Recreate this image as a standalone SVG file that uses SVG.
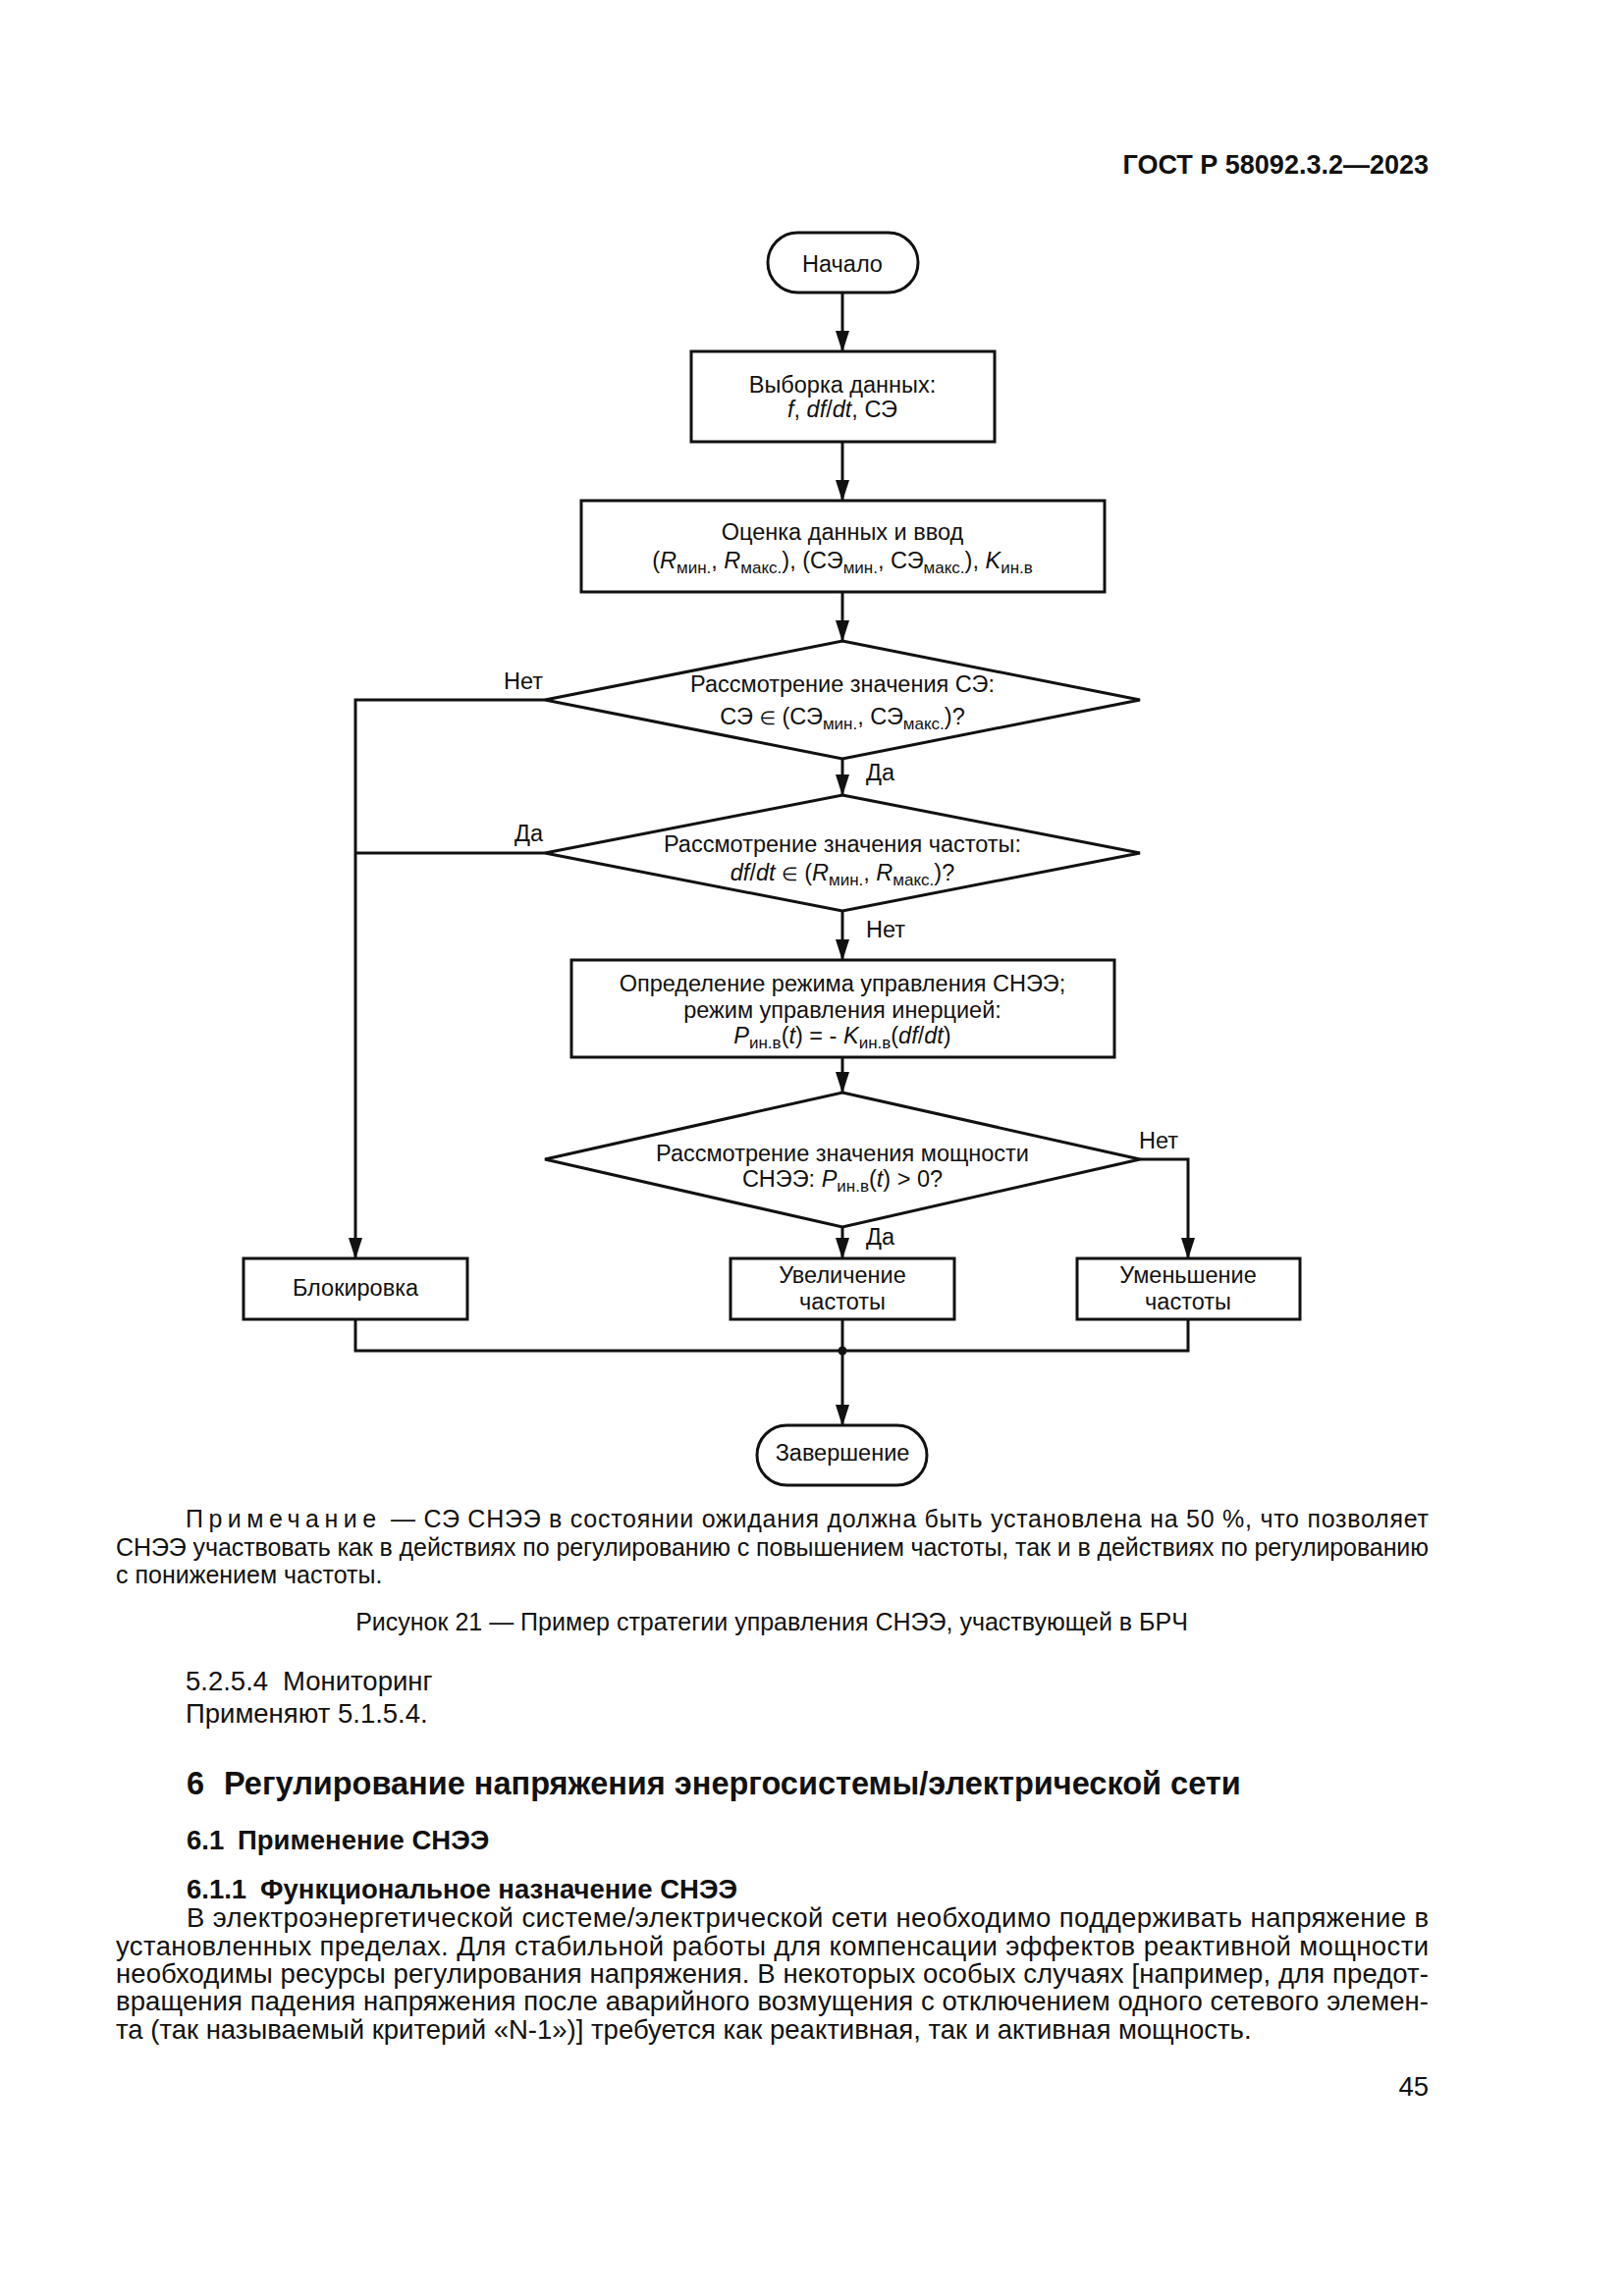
<svg xmlns="http://www.w3.org/2000/svg" width="1654" height="2339" viewBox="0 0 1654 2339">
<defs>
<style>
text{font-family:"Liberation Sans",Arial,"DejaVu Sans",sans-serif;fill:#111}
.t{font-size:23.5px}
.c{text-anchor:middle}
.e{text-anchor:end}
.i{font-style:italic}
.s{font-size:17px}
.m{font-size:19px}
.b{font-weight:bold}
.body{font-size:27.5px}
.note{font-size:25px}
.shape{fill:#fff;stroke:#111;stroke-width:3}
.ln{fill:none;stroke:#111;stroke-width:3}
</style>
<marker id="arr" markerWidth="22" markerHeight="14" refX="21" refY="7" orient="auto" markerUnits="userSpaceOnUse">
<path d="M0,0 L22,7 L0,14 Z" fill="#111"/>
</marker>
</defs>
<rect x="0" y="0" width="1654" height="2339" fill="#fff"/>

<text x="1455" y="177" class="e b" font-size="27px">ГОСТ Р 58092.3.2—2023</text>

<g id="connectors">
<path class="ln" d="M858,298 V358" marker-end="url(#arr)"/>
<path class="ln" d="M858,450 V510" marker-end="url(#arr)"/>
<path class="ln" d="M858,603 V653" marker-end="url(#arr)"/>
<path class="ln" d="M858,773 V810" marker-end="url(#arr)"/>
<path class="ln" d="M858,928 V978" marker-end="url(#arr)"/>
<path class="ln" d="M858,1077 V1113" marker-end="url(#arr)"/>
<path class="ln" d="M858,1250 V1282" marker-end="url(#arr)"/>
<path class="ln" d="M1161,1181 H1210 V1282" marker-end="url(#arr)"/>
<path class="ln" d="M555,713 H362 V1282" marker-end="url(#arr)"/>
<path class="ln" d="M555,869 H362"/>
<path class="ln" d="M362,1344 V1376 H1210 V1344"/>
<path class="ln" d="M858,1344 V1376"/>
<path class="ln" d="M858,1376 V1452" marker-end="url(#arr)"/>
<circle cx="858" cy="1376" r="4.5" fill="#111"/>
<text x="553" y="702" class="t e">Нет</text>
<text x="882" y="795" class="t">Да</text>
<text x="553" y="857" class="t e">Да</text>
<text x="882" y="955" class="t">Нет</text>
<text x="1160" y="1170" class="t">Нет</text>
<text x="882" y="1268" class="t">Да</text>
</g>

<g id="start">
<rect class="shape" x="782" y="237" width="153" height="61" rx="30.5"/>
<text x="858" y="277" class="t c">Начало</text>
</g>

<g id="sample">
<rect class="shape" x="704" y="358" width="309" height="92"/>
<text x="858" y="400" class="t c">Выборка данных:</text>
<text x="858" y="425" class="t c"><tspan class="i">f</tspan>, <tspan class="i">df</tspan>/<tspan class="i">dt</tspan>, СЭ</text>
</g>

<g id="evaluate">
<rect class="shape" x="592" y="510" width="533" height="93"/>
<text x="858" y="550" class="t c">Оценка данных и ввод</text>
<text x="858" y="579" class="t c">(<tspan class="i">R</tspan><tspan class="s" dy="5">мин.</tspan><tspan dy="-5">, </tspan><tspan class="i">R</tspan><tspan class="s" dy="5">макс.</tspan><tspan dy="-5">), (СЭ</tspan><tspan class="s" dy="5">мин.</tspan><tspan dy="-5">, СЭ</tspan><tspan class="s" dy="5">макс.</tspan><tspan dy="-5">), </tspan><tspan class="i">K</tspan><tspan class="s" dy="5">ин.в</tspan></text>
</g>

<g id="decision-se">
<polygon class="shape" points="858,653 1161,713 858,773 555,713"/>
<text x="858" y="705" class="t c">Рассмотрение значения СЭ:</text>
<text x="858" y="738" class="t c">СЭ <tspan class="m">∈</tspan> (СЭ<tspan class="s" dy="5">мин.</tspan><tspan dy="-5">, СЭ</tspan><tspan class="s" dy="5">макс.</tspan><tspan dy="-5">)?</tspan></text>
</g>

<g id="decision-freq">
<polygon class="shape" points="858,810 1161,869 858,928 555,869"/>
<text x="858" y="868" class="t c">Рассмотрение значения частоты:</text>
<text x="858" y="897" class="t c"><tspan class="i">df</tspan>/<tspan class="i">dt</tspan> <tspan class="m">∈</tspan> (<tspan class="i">R</tspan><tspan class="s" dy="5">мин.</tspan><tspan dy="-5">, </tspan><tspan class="i">R</tspan><tspan class="s" dy="5">макс.</tspan><tspan dy="-5">)?</tspan></text>
</g>

<g id="mode">
<rect class="shape" x="582" y="978" width="553" height="99"/>
<text x="858" y="1010" class="t c">Определение режима управления СНЭЭ;</text>
<text x="858" y="1037" class="t c">режим управления инерцией:</text>
<text x="858" y="1063" class="t c"><tspan class="i">P</tspan><tspan class="s" dy="5">ин.в</tspan><tspan dy="-5">(</tspan><tspan class="i">t</tspan>) = - <tspan class="i">K</tspan><tspan class="s" dy="5">ин.в</tspan><tspan dy="-5">(</tspan><tspan class="i">df</tspan>/<tspan class="i">dt</tspan>)</text>
</g>

<g id="decision-power">
<polygon class="shape" points="858,1113 1161,1181 858,1250 555,1181"/>
<text x="858" y="1183" class="t c">Рассмотрение значения мощности</text>
<text x="858" y="1209" class="t c">СНЭЭ: <tspan class="i">P</tspan><tspan class="s" dy="5">ин.в</tspan><tspan dy="-5">(</tspan><tspan class="i">t</tspan>) &gt; 0?</text>
</g>

<g id="block">
<rect class="shape" x="248" y="1282" width="228" height="62"/>
<text x="362" y="1320" class="t c">Блокировка</text>
</g>

<g id="increase">
<rect class="shape" x="744" y="1282" width="228" height="62"/>
<text x="858" y="1307" class="t c">Увеличение</text>
<text x="858" y="1334" class="t c">частоты</text>
</g>

<g id="decrease">
<rect class="shape" x="1097" y="1282" width="227" height="62"/>
<text x="1210" y="1307" class="t c">Уменьшение</text>
<text x="1210" y="1334" class="t c">частоты</text>
</g>

<g id="end">
<rect class="shape" x="771" y="1452" width="173" height="61" rx="30.5"/>
<text x="858" y="1488" class="t c">Завершение</text>
</g>

<text x="189" y="1556" class="note" letter-spacing="5.5">Примечание</text>
<text x="398" y="1556" class="note" textLength="1057" lengthAdjust="spacing">— СЭ СНЭЭ в состоянии ожидания должна быть установлена на 50 %, что позволяет</text>
<text x="118" y="1585" class="note" textLength="1337" lengthAdjust="spacing">СНЭЭ участвовать как в действиях по регулированию с повышением частоты, так и в действиях по регулированию</text>
<text x="118" y="1613" class="note">с понижением частоты.</text>

<text x="786" y="1661" class="note c">Рисунок 21 — Пример стратегии управления СНЭЭ, участвующей в БРЧ</text>

<text x="189" y="1722" class="body">5.2.5.4</text>
<text x="288" y="1722" class="body">Мониторинг</text>
<text x="189" y="1755" class="body">Применяют 5.1.5.4.</text>

<text x="190" y="1828" class="b" font-size="32.5px">6</text>
<text x="228" y="1828" class="b" font-size="32.5px">Регулирование напряжения энергосистемы/электрической сети</text>

<text x="190" y="1884" class="body b">6.1</text>
<text x="242" y="1884" class="body b">Применение СНЭЭ</text>

<text x="190" y="1934" class="body b">6.1.1</text>
<text x="265" y="1934" class="body b">Функциональное назначение СНЭЭ</text>

<text x="190" y="1963" class="body" textLength="1265" lengthAdjust="spacing">В электроэнергетической системе/электрической сети необходимо поддерживать напряжение в</text>
<text x="118" y="1992" class="body" textLength="1337" lengthAdjust="spacing">установленных пределах. Для стабильной работы для компенсации эффектов реактивной мощности</text>
<text x="118" y="2020" class="body" textLength="1337" lengthAdjust="spacing">необходимы ресурсы регулирования напряжения. В некоторых особых случаях [например, для предот-</text>
<text x="118" y="2048" class="body" textLength="1337" lengthAdjust="spacing">вращения падения напряжения после аварийного возмущения с отключением одного сетевого элемен-</text>
<text x="118" y="2077" class="body">та (так называемый критерий «N-1»)] требуется как реактивная, так и активная мощность.</text>

<text x="1455" y="2135" class="body e">45</text>
</svg>
